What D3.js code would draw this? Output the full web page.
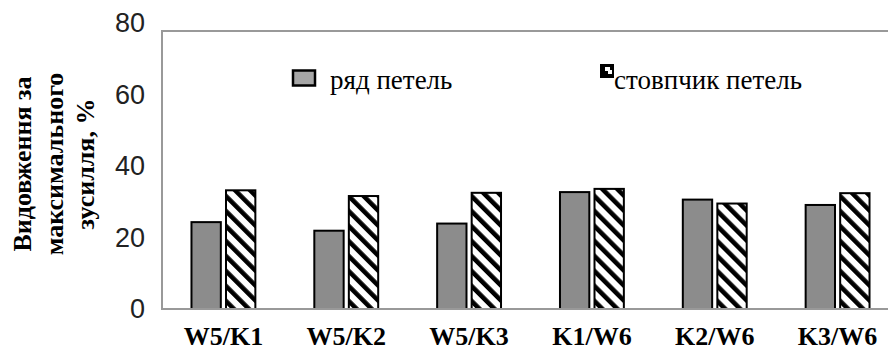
<!DOCTYPE html>
<html>
<head>
<meta charset="utf-8">
<script src="https://cdn.jsdelivr.net/npm/d3@7"></script>
<style>
  body { margin: 0; background: #fff; }
  svg { display: block; }
  .serif { font-family: "Liberation Serif", "Times New Roman", serif; }
</style>
</head>
<body>
<svg id="chart" width="888" height="350"></svg>
<script>
// categories and series
const categories = ["W5/K1", "W5/K2", "W5/K3", "K1/W6", "K2/W6", "K3/W6"];
const series = ["ряд петель", "стовпчик петель"];
const rowValues = [24.3, 21.9, 23.9, 32.7, 30.6, 29.1];     // ряд петель
const columnValues = [33.2, 31.6, 32.5, 33.6, 29.5, 32.4];  // стовпчик петель
const yTicks = [0, 20, 40, 60, 80];
const yTitle = ["Видовження за", "максимального", "зусилля, %"];

const svg = d3.select("#chart");

// hatch pattern for second series
const defs = svg.append("defs");
const pat = defs.append("pattern")
  .attr("id", "hatch")
  .attr("patternUnits", "userSpaceOnUse")
  .attr("width", 10.6)
  .attr("height", 10.6)
  .attr("patternTransform", "rotate(-45)");
pat.append("rect").attr("width", 10.6).attr("height", 10.6).attr("fill", "#fff");
pat.append("rect").attr("width", 4.6).attr("height", 10.6).attr("fill", "#000");

const left = 162, bottom = 309, frameTop = 31;

const x0 = d3.scaleBand()
  .domain(categories)
  .range([left, 899])
  .paddingInner(0.48)
  .paddingOuter(0.24);

const x1 = d3.scaleBand()
  .domain(series)
  .range([0, x0.bandwidth()])
  .paddingInner(0.15);

const y = d3.scaleLinear().domain([0, 80]).range([bottom, 23]);

const rows = categories.map((c, i) => ({ cat: c, vals: [rowValues[i], columnValues[i]] }));

// frame
svg.append("path")
  .attr("d", `M888,${frameTop}H${left}V${bottom}H888`)
  .attr("fill", "none")
  .attr("stroke", "#999")
  .attr("stroke-width", 2);

// bars
const groups = svg.selectAll("g.grp")
  .data(rows)
  .join("g")
  .attr("class", "grp")
  .attr("transform", d => `translate(${x0(d.cat)},0)`);

groups.selectAll("rect")
  .data(d => d.vals.map((v, j) => ({ s: series[j], v: v, j: j })))
  .join("rect")
  .attr("x", d => x1(d.s))
  .attr("y", d => y(d.v))
  .attr("width", x1.bandwidth())
  .attr("height", d => y(0) - y(d.v))
  .attr("fill", d => d.j === 0 ? "#8c8c8c" : "url(#hatch)")
  .attr("stroke", "#000")
  .attr("stroke-width", 2);

// redraw baseline over bars
svg.append("line")
  .attr("x1", left).attr("x2", 888)
  .attr("y1", bottom).attr("y2", bottom)
  .attr("stroke", "#999").attr("stroke-width", 2);

// y axis labels
const yAxis = d3.axisLeft(y).tickValues(yTicks).tickSize(0).tickPadding(17);
svg.append("g")
  .attr("transform", `translate(${left},0)`)
  .call(yAxis)
  .call(g => g.select(".domain").remove())
  .attr("font-family", "'Liberation Sans', Arial, sans-serif")
  .attr("font-size", 27)
  .selectAll("text")
  .attr("fill", "#222");

// x axis labels
const xAxis = d3.axisBottom(x0).tickSize(0).tickPadding(18);
svg.append("g")
  .attr("transform", `translate(0,${bottom})`)
  .call(xAxis)
  .call(g => g.select(".domain").remove())
  .attr("font-family", "'Liberation Serif', 'Times New Roman', serif")
  .attr("font-size", 26)
  .attr("font-weight", "bold")
  .selectAll("text")
  .attr("fill", "#000");

// y title
const titleX = [31, 63, 94];
yTitle.forEach((t, i) => {
  svg.append("text")
    .attr("class", "serif")
    .attr("transform", `translate(${titleX[i]},164) rotate(-90)`)
    .attr("text-anchor", "middle")
    .attr("font-weight", "bold")
    .attr("font-size", 26)
    .text(t);
});

// legend
svg.append("rect")
  .attr("x", 293).attr("y", 70.5).attr("width", 22).attr("height", 15)
  .attr("fill", "#a6a6a6").attr("stroke", "#000").attr("stroke-width", 2.5);
svg.append("text")
  .attr("class", "serif")
  .attr("x", 330).attr("y", 89)
  .attr("font-size", 27)
  .text(series[0]);

svg.append("rect")
  .attr("x", 600).attr("y", 64).attr("width", 14).attr("height", 14)
  .attr("fill", "#000");
svg.append("path")
  .attr("d", "M605,67h5v3h2v4h-4v-3h-3z")
  .attr("fill", "#fff");
svg.append("text")
  .attr("class", "serif")
  .attr("x", 614).attr("y", 89)
  .attr("font-size", 27)
  .text(series[1]);
</script>
</body>
</html>
